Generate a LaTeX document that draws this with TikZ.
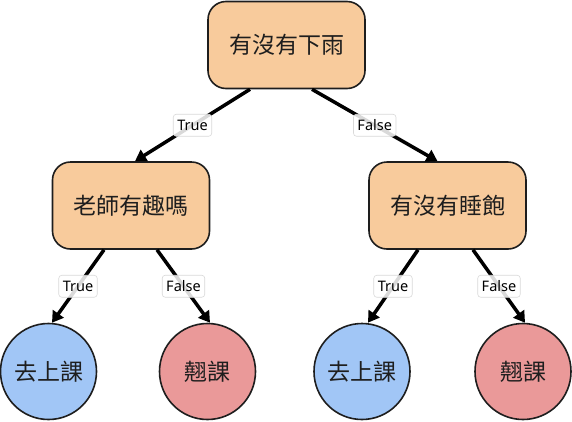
\documentclass[tikz,border=0pt]{standalone}
\usepackage{fontspec}
\setmainfont{Noto Sans}
\newfontfamily\cjk{Noto Sans CJK TC}
\usetikzlibrary{arrows.meta}
\definecolor{askorange}{HTML}{F8CB9C}
\definecolor{goblue}{HTML}{A1C6F6}
\definecolor{skipred}{HTML}{EA9999}
\definecolor{ink}{HTML}{1E1E1E}
\tikzset{
    question/.style={draw=ink, line width=1.6pt, fill=askorange, rounded corners=18pt,
        minimum width=157pt, minimum height=87pt, text=ink,
        font=\cjk\fontsize{23}{23}\selectfont},
    answer/.style={circle, draw=ink, line width=1.6pt, minimum size=96pt, inner sep=0pt, text=ink,
        font=\cjk\fontsize{23}{23}\selectfont},
    branch/.style={draw=black, line width=3.5pt, -{Triangle[length=11pt,width=13pt]}},
    tag/.style={draw=gray!30, line width=0.6pt, fill=white, fill opacity=0.85, text opacity=1,
        rounded corners=3pt, minimum height=22pt, inner xsep=4pt, text=black,
        font=\fontsize{14.5}{14.5}\selectfont}
}
\begin{document}
\begin{tikzpicture}[x=1pt,y=-1pt]
    \useasboundingbox (0,0) rectangle (572,421);
    % questions
    \node[question] (rain) at (286.5,45) {有沒有下雨};
    \node[question] (teacher) at (131,205.5) {老師有趣嗎};
    \node[question] (sleep) at (447.5,205.5) {有沒有睡飽};
    % outcomes
    \node[answer, fill=goblue] (goA) at (48.5,371.5) {去上課};
    \node[answer, fill=skipred] (skipA) at (207.5,371.5) {翹課};
    \node[answer, fill=goblue] (goB) at (362,371.5) {去上課};
    \node[answer, fill=skipred] (skipB) at (523,371.5) {翹課};
    % branches
    \draw[branch] ([xshift=-36.5pt]rain.south) -- ([xshift=4pt]teacher.north)
        node[tag, midway] {True};
    \draw[branch] ([xshift=25.5pt]rain.south) -- ([xshift=-10pt]sleep.north)
        node[tag, midway] {False};
    \draw[branch] ([xshift=-27pt]teacher.south) -- ([xshift=3.5pt]goA.north)
        node[tag, midway] {True};
    \draw[branch] ([xshift=26pt]teacher.south) -- ([xshift=2.5pt]skipA.north)
        node[tag, midway] {False};
    \draw[branch] ([xshift=-29.5pt]sleep.south) -- ([xshift=6pt]goB.north)
        node[tag, midway] {True};
    \draw[branch] ([xshift=25.5pt]sleep.south) -- ([xshift=2pt]skipB.north)
        node[tag, midway] {False};
\end{tikzpicture}
\end{document}
